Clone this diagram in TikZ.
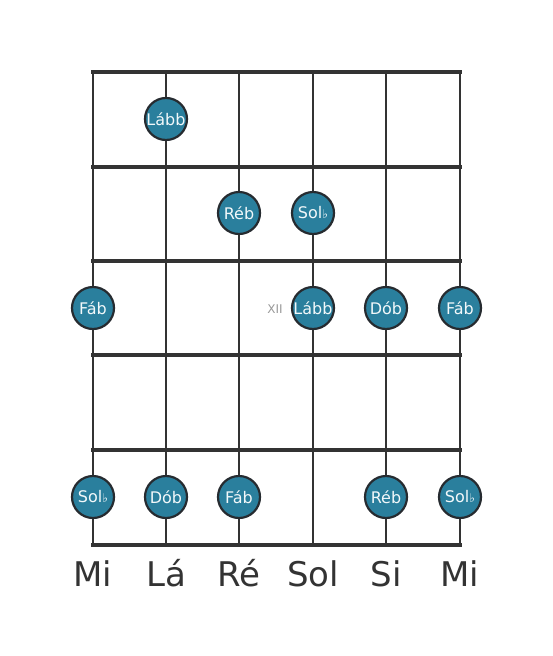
\documentclass[tikz,border=0pt]{standalone}
\usepackage{fontspec}
\setmainfont{DejaVu Sans}
\definecolor{lineC}{HTML}{333333}
\definecolor{dotC}{HTML}{2A7F9D}
\definecolor{dotEdge}{HTML}{262B30}
\definecolor{textC}{HTML}{F2F8FA}
\newcommand{\fl}{{\fontsize{12pt}{12pt}\selectfont ♭}}
\begin{document}
\begin{tikzpicture}[x=1pt,y=-1pt,
  stringline/.style={draw=lineC,line width=2.8pt},
  fretline/.style={draw=lineC,line width=4.5pt},
  note/.style={circle,draw=dotEdge,line width=2.2pt,fill=dotC,minimum size=42pt,inner sep=0pt,text=textC,font=\fontsize{16pt}{16pt}\selectfont},
  strname/.style={text=lineC,font=\fontsize{34pt}{34pt}\selectfont,anchor=base},
  fretmark/.style={text=gray!80,font=\fontsize{12pt}{12pt}\selectfont}]
\useasboundingbox (0,0) rectangle (553,656);
% strings
\foreach \i/\x in {1/93,2/166,3/239,4/313,5/386,6/460}{
  \coordinate (s\i t) at (\x,72);
  \coordinate (s\i b) at (\x,545);
  \draw[stringline] (s\i t) -- (s\i b);
}
% frets
\foreach \j/\y in {0/72,1/167,2/261,3/355,4/450,5/545}{
  \coordinate (f\j l) at (93,\y);
  \coordinate (f\j r) at (460,\y);
  \draw[fretline,line cap=rect] (f\j l) -- (f\j r);
}
% notes
\node[note] (n1) at (166,119) {Lább};
\node[note] (n2) at (239,213) {Réb};
\node[note] (n3) at (313,213) {Sol\fl};
\node[note] (n4) at (93,308) {Fáb};
\node[note] (n5) at (313,308) {Lább};
\node[note] (n6) at (386,308) {Dób};
\node[note] (n7) at (460,308) {Fáb};
\node[note] (n8) at (93,497) {Sol\fl};
\node[note] (n9) at (166,497) {Dób};
\node[note] (n10) at (239,497) {Fáb};
\node[note] (n11) at (386,497) {Réb};
\node[note] (n12) at (460,497) {Sol\fl};
\node[fretmark] (xii) at (275,309) {XII};
% string names
\node[strname] (l1) at (93,586) {Mi};
\node[strname] (l2) at (166,586) {Lá};
\node[strname] (l3) at (239,586) {Ré};
\node[strname] (l4) at (313,586) {Sol};
\node[strname] (l5) at (386,586) {Si};
\node[strname] (l6) at (460,586) {Mi};
\end{tikzpicture}
\end{document}
